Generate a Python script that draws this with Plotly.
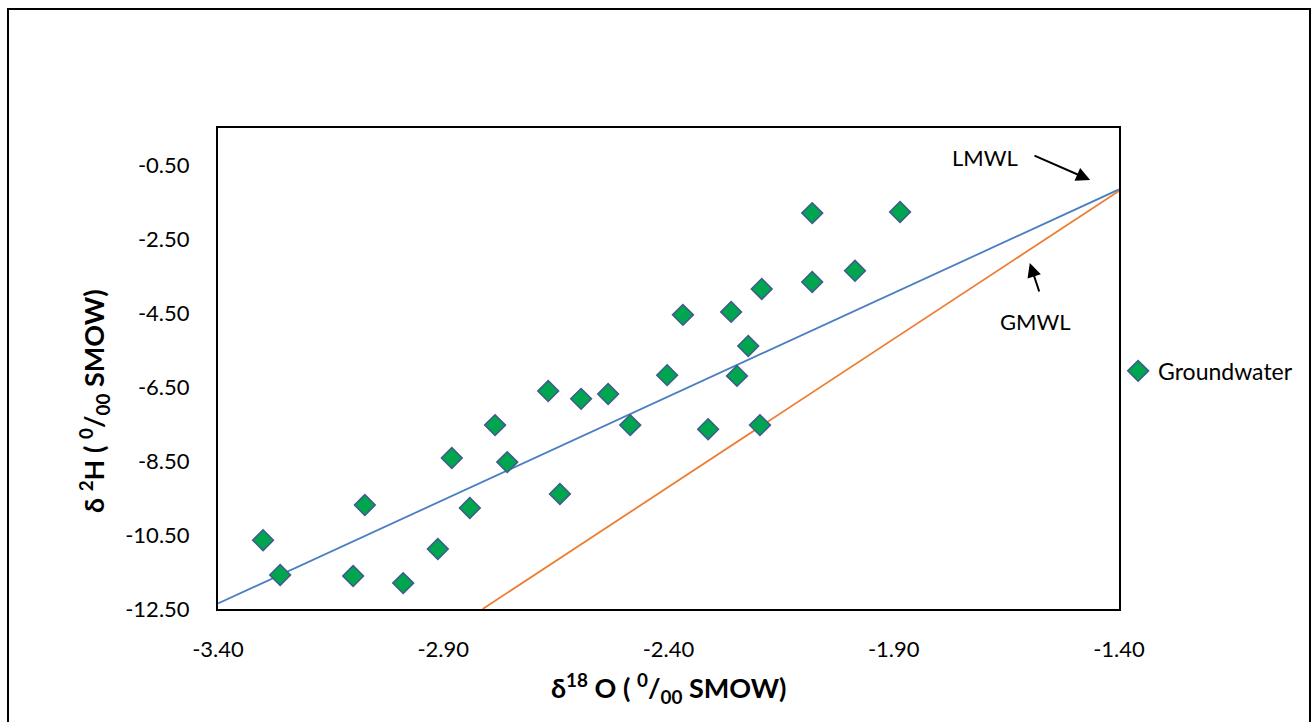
import plotly.graph_objects as go

# Groundwater isotope data
d18o = [-3.300, -3.262, -3.100, -3.074, -2.989, -2.912, -2.881, -2.841, -2.785, -2.758,
        -2.667, -2.641, -2.594, -2.534, -2.485, -2.403, -2.368, -2.312, -2.261, -2.248,
        -2.223, -2.197, -2.193, -2.081, -2.081, -1.986, -1.886]
d2h = [-10.64, -11.58, -11.61, -9.69, -11.80, -10.88, -8.42, -9.77, -7.53, -8.53,
       -6.61, -9.39, -6.82, -6.69, -7.53, -6.18, -4.55, -7.64, -4.47, -6.20,
       -5.39, -7.53, -3.85, -1.80, -3.66, -3.36, -1.77]

# Meteoric water lines
lmwl_x = [-3.4, -1.4]
lmwl_y = [-12.35, -1.16]
gmwl_x = [-2.8125, -1.4]
gmwl_y = [-12.5, -1.2]

x_ticks = [-3.40, -2.90, -2.40, -1.90, -1.40]
y_ticks = [-12.50, -10.50, -8.50, -6.50, -4.50, -2.50, -0.50]

FONT = "Lato"

fig = go.Figure()
fig.add_trace(go.Scatter(x=lmwl_x, y=lmwl_y, mode="lines",
                         line=dict(color="#4A7EC2", width=1.8), showlegend=False, hoverinfo="skip"))
fig.add_trace(go.Scatter(x=gmwl_x, y=gmwl_y, mode="lines",
                         line=dict(color="#ED7D31", width=1.8), showlegend=False, hoverinfo="skip"))
fig.add_trace(go.Scatter(x=d18o, y=d2h, mode="markers", name="Groundwater",
                         marker=dict(symbol="diamond", size=16, color="#00A550",
                                     line=dict(color="#3F5A8C", width=1.5))))

fig.update_layout(
    width=1315, height=722,
    margin=dict(l=218, r=196, t=128, b=113),
    paper_bgcolor="white", plot_bgcolor="white",
    font=dict(family=FONT, size=22, color="black"),
    showlegend=True,
    legend=dict(x=0.999, y=0.495, xanchor="left", yanchor="middle",
                font=dict(size=23, family=FONT), bgcolor="rgba(0,0,0,0)",
                itemwidth=30, tracegroupgap=0),
    xaxis=dict(range=[-3.4, -1.4], tickvals=x_ticks,
               ticktext=[f"{v:.2f}" for v in x_ticks],
               showgrid=False, zeroline=False, ticks="", ticklabelstandoff=20,
               tickfont=dict(size=22, family=FONT),
               showline=True, linecolor="black", linewidth=2, mirror=True),
    yaxis=dict(range=[-12.5, 0.5], tickvals=y_ticks,
               ticktext=[f"{v:.2f}" for v in y_ticks],
               showgrid=False, zeroline=False, ticks="", ticklabelstandoff=22,
               tickfont=dict(size=22, family=FONT),
               showline=True, linecolor="black", linewidth=2, mirror=True),
)

# Axis titles (placed as annotations for exact positioning)
fig.add_annotation(xref="paper", yref="paper", x=0.5, y=(609 - 688) / 481,
                   text="<b>δ<sup>18</sup> O ( <sup>0</sup>/<sub>00</sub> SMOW)</b>",
                   showarrow=False, font=dict(size=27, family=FONT), xanchor="center", yanchor="middle")
fig.add_annotation(xref="paper", yref="paper", x=(94 - 218) / 901, y=(609 - 401) / 481,
                   text="<b>δ <sup>2</sup>H ( <sup>0</sup>/<sub>00</sub> SMOW)</b>", textangle=-90,
                   showarrow=False, font=dict(size=27, family=FONT), xanchor="center", yanchor="middle")

# Outer chart border
fig.add_shape(type="rect", xref="paper", yref="paper",
              x0=(8 - 218) / 901, x1=(1310 - 218) / 901,
              y0=(609 - 740) / 481, y1=(609 - 9) / 481,
              line=dict(color="black", width=2), fillcolor="rgba(0,0,0,0)", layer="below")

# Line labels with arrows
fig.add_annotation(x=-1.464, y=-0.905, ax=-1.591, ay=-0.23, xref="x", yref="y", axref="x", ayref="y",
                   showarrow=True, arrowhead=2, arrowsize=1.4, arrowwidth=2, arrowcolor="black", text="")
fig.add_annotation(x=-1.697, y=-0.31, xref="x", yref="y", text="LMWL", showarrow=False,
                   font=dict(size=22, family=FONT))
fig.add_annotation(x=-1.598, y=-3.15, ax=-1.576, ay=-3.96, xref="x", yref="y", axref="x", ayref="y",
                   showarrow=True, arrowhead=2, arrowsize=1.4, arrowwidth=2, arrowcolor="black", text="")
fig.add_annotation(x=-1.586, y=-4.74, xref="x", yref="y", text="GMWL", showarrow=False,
                   font=dict(size=22, family=FONT))

fig.write_html("out.html")
